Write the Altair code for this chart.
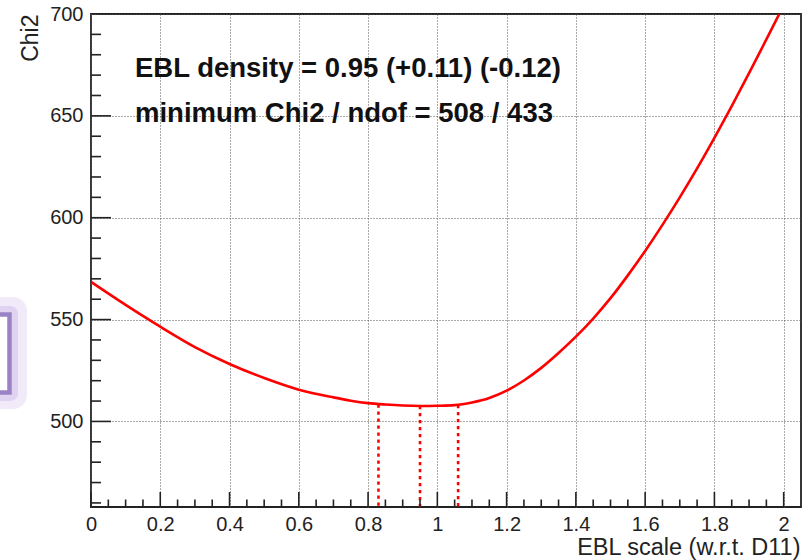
import altair as alt
import pandas as pd

# ---- data ----
curve_x = [0.0, 0.1, 0.2, 0.3, 0.4, 0.5, 0.6, 0.7, 0.75, 0.8, 0.85, 0.9, 0.95,
           1.0, 1.05, 1.1, 1.15, 1.2, 1.25, 1.3, 1.35, 1.4, 1.45, 1.5, 1.55,
           1.6, 1.65, 1.7, 1.75, 1.8, 1.85, 1.9, 1.95, 2.0]
curve_chi2 = [568.5, 557.2, 546.5, 536.5, 528.2, 521.3, 515.6, 511.8, 510.2,
              509.0, 508.3, 507.8, 507.6, 507.7, 508.0, 509.3, 511.5, 515.1,
              520.1, 526.3, 533.6, 541.6, 550.5, 560.5, 571.7, 583.7, 596.5,
              610.0, 624.2, 639.2, 654.8, 671.0, 687.5, 704.3]

err_x = [0.83, 0.95, 1.06]
err_chi2 = [508.3, 507.6, 508.1]

x_major = [0, 0.2, 0.4, 0.6, 0.8, 1.0, 1.2, 1.4, 1.6, 1.8, 2.0]
x_minor = [0.05, 0.1, 0.15, 0.25, 0.3, 0.35, 0.45, 0.5, 0.55, 0.65, 0.7, 0.75,
           0.85, 0.9, 0.95, 1.05, 1.1, 1.15, 1.25, 1.3, 1.35, 1.45, 1.5, 1.55,
           1.65, 1.7, 1.75, 1.85, 1.9, 1.95]
y_major = [500, 550, 600, 650, 700]
y_minor = [460, 470, 480, 490, 510, 520, 530, 540, 560, 570, 580, 590,
           610, 620, 630, 640, 660, 670, 680, 690]

annot_lines = ["EBL density = 0.95 (+0.11) (-0.12)",
               "minimum Chi2 / ndof = 508 / 433"]

x_title = "EBL scale (w.r.t. D11)"
y_title = "Chi2"

# ---- layout ----
W, H = 710, 493
FONT = "Liberation Sans"
AX = "#222222"

x_scale = alt.Scale(domain=[0, 2.05], nice=False, zero=False)
y_scale = alt.Scale(domain=[458, 700], nice=False, zero=False)

df_curve = pd.DataFrame({"x": curve_x, "chi2": curve_chi2})
df_err = pd.DataFrame({"x": err_x, "chi2": err_chi2})
df_xmaj = pd.DataFrame({"x": x_major})
df_xmin = pd.DataFrame({"x": x_minor})
df_ymaj = pd.DataFrame({"chi2": [v for v in y_major if v < 700]})
df_ymin = pd.DataFrame({"chi2": y_minor})
dummy = pd.DataFrame({"a": [0]})

x_axis = alt.Axis(
    values=x_major, format="~g", grid=True, gridDash=[1, 2], gridColor="#555555",
    gridWidth=1, gridOpacity=1, ticks=False, domain=False,
    labelFont=FONT, labelFontSize=20, labelColor=AX, labelPadding=7,
    labelFlush=False, labelOverlap=False,
    title=x_title, titleFont=FONT, titleFontSize=23.5, titleFontWeight="normal",
    titleColor=AX, titleX=709, titleY=47, titleAlign="right",
    titleBaseline="alphabetic",
)
y_axis = alt.Axis(
    values=y_major, format="d", grid=True, gridDash=[1, 2], gridColor="#555555",
    gridWidth=1, gridOpacity=1, ticks=False, domain=False,
    labelFont=FONT, labelFontSize=20, labelColor=AX, labelPadding=8,
    labelFlush=False, labelOverlap=False,
    title=y_title, titleFont=FONT, titleFontSize=23, titleFontWeight="normal",
    titleColor=AX, titleX=-54, titleY=0, titleAngle=270, titleAlign="right",
    titleBaseline="alphabetic",
)

X = alt.X("x:Q", scale=x_scale, axis=x_axis)
Y = alt.Y("chi2:Q", scale=y_scale, axis=y_axis)

curve = alt.Chart(df_curve).mark_line(
    color="#ff0000", strokeWidth=2.6, interpolate="monotone", clip=True
).encode(x=X, y=Y)

err = alt.Chart(df_err).mark_rule(
    color="#ff0000", strokeWidth=2.6, strokeDash=[3.2, 3.8]
).encode(x=X, y=Y, y2=alt.value(H))

xt_major = alt.Chart(df_xmaj).mark_rule(color=AX, strokeWidth=1.6).encode(
    x=X, y=alt.value(H), y2=alt.value(H - 15))
xt_minor = alt.Chart(df_xmin).mark_rule(color=AX, strokeWidth=1.6).encode(
    x=X, y=alt.value(H), y2=alt.value(H - 7.5))
yt_major = alt.Chart(df_ymaj).mark_rule(color=AX, strokeWidth=1.6).encode(
    y=Y, x=alt.value(0), x2=alt.value(20))
yt_minor = alt.Chart(df_ymin).mark_rule(color=AX, strokeWidth=1.6).encode(
    y=Y, x=alt.value(0), x2=alt.value(10))

text1 = alt.Chart(pd.DataFrame({"t": [annot_lines[0]]})).mark_text(
    align="left", baseline="alphabetic", font=FONT, fontSize=27.5,
    fontWeight="bold", color="#111111"
).encode(x=alt.value(44), y=alt.value(63), text="t:N")
text2 = alt.Chart(pd.DataFrame({"t": [annot_lines[1]]})).mark_text(
    align="left", baseline="alphabetic", font=FONT, fontSize=27.5,
    fontWeight="bold", color="#111111"
).encode(x=alt.value(44), y=alt.value(107.5), text="t:N")

# screenshot artifact at the left edge (purple selection box)
glow1 = alt.Chart(dummy).mark_rect(fill="#efe8f7", opacity=0.9, cornerRadius=14).encode(
    x=alt.value(-110), x2=alt.value(-64), y=alt.value(283), y2=alt.value(395))
glow2 = alt.Chart(dummy).mark_rect(fill="#ddd0ef", opacity=0.9, cornerRadius=8).encode(
    x=alt.value(-105), x2=alt.value(-73), y=alt.value(292), y2=alt.value(387))
box = alt.Chart(dummy).mark_rect(fill="white", stroke="#9a82c4", strokeWidth=4.5).encode(
    x=alt.value(-100), x2=alt.value(-81.5), y=alt.value(300.5), y2=alt.value(378.5))

chart = alt.layer(
    glow1, glow2, box, curve, err, xt_major, xt_minor, yt_major, yt_minor, text1, text2
).properties(
    width=W, height=H,
    autosize=alt.AutoSizeParams(type="none"),
    padding={"left": 91, "top": 14, "right": 7, "bottom": 53},
    background="white",
).configure_view(stroke=AX, strokeWidth=1.8)

chart.save("out.html", embed_options={"renderer": "svg", "actions": False})
